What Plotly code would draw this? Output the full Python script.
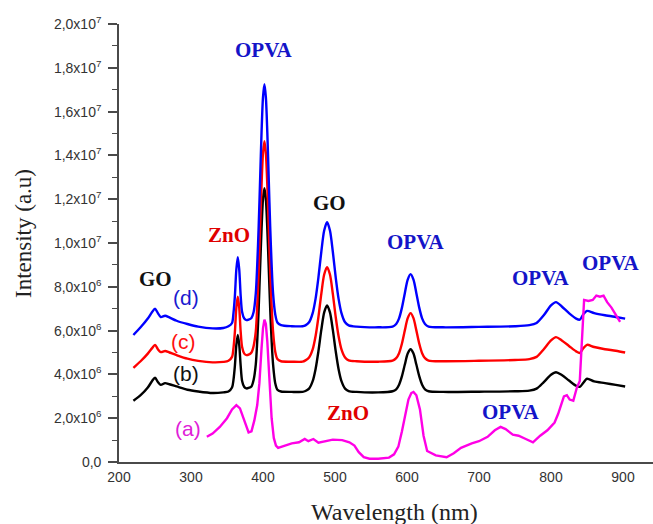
import plotly.graph_objects as go

# ---------------- data ----------------
wavelength_bcd = [
    220, 230, 240, 246, 250, 254, 258, 264, 270, 280,
    295, 310, 330, 345, 352, 357, 359, 361, 363, 365,
    367, 369, 371, 374, 377, 380, 384, 387, 390, 392,
    394, 396, 398, 400, 402, 404, 406, 408, 410, 412,
    414, 417, 420, 425, 440, 455, 459, 464, 469, 473,
    477, 481, 485, 489, 493, 497, 501, 505, 509, 514,
    519, 530, 560, 580, 585, 589, 593, 597, 601, 605,
    609, 613, 617, 621, 625, 630, 650, 700, 750, 770,
    780, 790, 800, 807, 815, 825, 835, 840, 845, 850,
    860, 875, 890, 903,
]

# intensities in units of 1e6
intensity_d = [
    5.80, 6.15, 6.55, 6.85, 7.00, 6.80, 6.62, 6.68, 6.60, 6.45,
    6.30, 6.18, 6.10, 6.12, 6.20, 6.35, 6.80, 7.60, 8.80, 9.35,
    8.80, 7.60, 6.85, 6.55, 6.48, 6.50, 6.58, 6.85, 7.70, 9.00,
    10.75, 12.90, 15.05, 16.65, 17.25, 16.65, 15.05, 12.90, 10.75, 9.00,
    7.70, 6.75, 6.37, 6.25, 6.20, 6.20, 6.24, 6.38, 6.80, 7.45,
    8.43, 9.60, 10.57, 10.95, 10.57, 9.60, 8.43, 7.45, 6.80, 6.38,
    6.24, 6.18, 6.15, 6.18, 6.30, 6.56, 7.05, 7.71, 8.33, 8.58,
    8.33, 7.71, 7.05, 6.56, 6.30, 6.18, 6.15, 6.17, 6.20, 6.25,
    6.35, 6.70, 7.15, 7.30, 7.10, 6.80, 6.55, 6.50, 6.75, 6.90,
    6.80, 6.70, 6.62, 6.55,
]

intensity_c = [
    4.30, 4.60, 4.95, 5.20, 5.35, 5.15, 5.02, 5.07, 5.00, 4.88,
    4.72, 4.62, 4.55, 4.57, 4.62, 4.80, 5.20, 5.95, 7.05, 7.55,
    7.05, 5.95, 5.25, 4.95, 4.88, 4.90, 5.00, 5.30, 5.96, 7.10,
    8.70, 10.70, 12.64, 14.10, 14.65, 14.10, 12.64, 10.70, 8.70, 7.10,
    5.96, 5.04, 4.70, 4.60, 4.58, 4.58, 4.64, 4.77, 5.14, 5.74,
    6.62, 7.68, 8.56, 8.90, 8.56, 7.68, 6.62, 5.74, 5.14, 4.77,
    4.64, 4.60, 4.58, 4.63, 4.74, 4.97, 5.41, 6.01, 6.57, 6.80,
    6.57, 6.01, 5.41, 4.97, 4.74, 4.63, 4.60, 4.62, 4.66, 4.70,
    4.80, 5.15, 5.55, 5.70, 5.55, 5.30, 5.05, 4.98, 5.20, 5.35,
    5.25, 5.15, 5.08, 5.00,
]

intensity_b = [
    2.80, 3.05, 3.40, 3.70, 3.85, 3.65, 3.52, 3.60, 3.55, 3.45,
    3.30, 3.22, 3.15, 3.18, 3.22, 3.40, 3.75, 4.40, 5.35, 5.80,
    5.35, 4.40, 3.70, 3.42, 3.36, 3.38, 3.45, 3.75, 4.46, 5.53,
    7.00, 8.85, 10.64, 12.00, 12.50, 12.00, 10.64, 8.85, 7.00, 5.53,
    4.46, 3.60, 3.30, 3.22, 3.20, 3.20, 3.24, 3.35, 3.69, 4.24,
    5.06, 6.03, 6.83, 7.15, 6.83, 6.03, 5.06, 4.24, 3.69, 3.35,
    3.24, 3.20, 3.18, 3.23, 3.32, 3.53, 3.92, 4.45, 4.95, 5.15,
    4.95, 4.45, 3.92, 3.53, 3.32, 3.23, 3.20, 3.21, 3.23, 3.26,
    3.35, 3.65, 3.98, 4.10, 3.97, 3.72, 3.48, 3.43, 3.62, 3.80,
    3.68, 3.60, 3.52, 3.45,
]

wavelength_a = [
    322, 330, 340, 350, 357, 363, 368, 374, 380, 384,
    388, 392, 395, 398, 400, 402, 404, 406, 409, 412,
    415, 418, 421, 430, 440, 450, 458, 463, 470, 477,
    485, 497, 510, 520, 527, 533, 540, 548, 560, 575,
    582, 588, 593, 598, 602, 606, 609, 613, 618, 623,
    628, 640, 655, 665, 675, 690, 700, 712, 722, 730,
    737, 747, 755, 765, 775, 785, 795, 805, 810, 815,
    818, 822, 826, 831, 836, 840, 843, 846, 852, 858,
    863, 868, 873, 878, 884, 890, 896,
]

intensity_a = [
    1.15, 1.30, 1.60, 2.00, 2.40, 2.60, 2.45, 1.85, 1.35, 1.40,
    1.90, 2.60, 3.60, 5.20, 6.10, 6.50, 6.30, 5.50, 3.60, 2.00,
    1.10, 0.75, 0.65, 0.75, 0.85, 0.90, 1.05, 0.95, 1.05, 0.88,
    0.95, 1.02, 1.00, 0.90, 0.75, 0.45, 0.22, 0.15, 0.15, 0.20,
    0.35, 0.70, 1.40, 2.30, 2.85, 3.15, 3.20, 3.05, 2.40, 1.20,
    0.50, 0.30, 0.22, 0.40, 0.65, 0.85, 0.95, 1.15, 1.45, 1.60,
    1.50, 1.25, 1.20, 1.05, 0.90, 1.20, 1.45, 1.80, 2.20, 2.70,
    3.00, 3.05, 2.85, 2.80, 3.40, 3.70, 5.50, 7.40, 7.35, 7.40,
    7.60, 7.55, 7.60, 7.30, 7.05, 6.75, 6.40,
]

y_tick_values = [0, 2e6, 4e6, 6e6, 8e6, 1e7, 1.2e7, 1.4e7, 1.6e7, 1.8e7, 2e7]
y_tick_labels = ["0,0", "2,0x10<sup>6</sup>", "4,0x10<sup>6</sup>", "6,0x10<sup>6</sup>",
                 "8,0x10<sup>6</sup>", "1,0x10<sup>7</sup>", "1,2x10<sup>7</sup>",
                 "1,4x10<sup>7</sup>", "1,6x10<sup>7</sup>", "1,8x10<sup>7</sup>",
                 "2,0x10<sup>7</sup>"]

# peak labels: (text, wavelength, intensity, color)
peak_labels = [
    ("OPVA", 401, 1.881e7, "#1414c8"),
    ("ZnO", 353, 1.037e7, "#e00000"),
    ("GO", 492, 1.183e7, "#111111"),
    ("OPVA", 612, 1.005e7, "#1414c8"),
    ("ZnO", 518, 2.24e6, "#e00000"),
    ("OPVA", 744, 2.28e6, "#1414c8"),
    ("OPVA", 786, 8.40e6, "#1414c8"),
    ("OPVA", 883, 9.09e6, "#1414c8"),
    ("GO", 250, 8.36e6, "#111111"),
]
series_labels = [
    ("(d)", 293, 7.49e6, "#1a1ad0"),
    ("(c)", 290, 5.48e6, "#ff1010"),
    ("(b)", 293, 4.02e6, "#111111"),
    ("(a)", 296, 1.51e6, "#e020d8"),
]

# ---------------- figure ----------------
scale = 1e6
fig = go.Figure()
line_w = 2.4
fig.add_trace(go.Scatter(x=wavelength_bcd, y=[v * scale for v in intensity_b], mode="lines",
                         line=dict(color="#000000", width=line_w, shape="spline", smoothing=0.8),
                         showlegend=False))
fig.add_trace(go.Scatter(x=wavelength_bcd, y=[v * scale for v in intensity_c], mode="lines",
                         line=dict(color="#ff0000", width=line_w, shape="spline", smoothing=0.8),
                         showlegend=False))
fig.add_trace(go.Scatter(x=wavelength_bcd, y=[v * scale for v in intensity_d], mode="lines",
                         line=dict(color="#0000ff", width=line_w, shape="spline", smoothing=0.8),
                         showlegend=False))
fig.add_trace(go.Scatter(x=wavelength_a, y=[v * scale for v in intensity_a], mode="lines",
                         line=dict(color="#ff00e6", width=line_w),
                         showlegend=False))

x_range = [200, 941.7]
axis_col = "#4a4a4a"
tick_font = dict(family="Liberation Sans, Arial, sans-serif", size=14, color="#333333")

fig.update_layout(
    width=653, height=524,
    margin=dict(l=119, r=0, t=24, b=62),
    paper_bgcolor="white", plot_bgcolor="white",
    # bottom axis: line and labels (ticks drawn by xaxis3)
    xaxis=dict(range=x_range, showgrid=False, zeroline=False,
               showline=True, linecolor=axis_col, linewidth=1.6,
               ticks="", tick0=200, dtick=100, tickfont=tick_font,
               ticklabelstandoff=1),
    # top axis
    xaxis2=dict(range=x_range, overlaying="x", side="top", anchor="y",
                showgrid=False, zeroline=False, showticklabels=False,
                showline=True, linecolor=axis_col, linewidth=1.6,
                ticks="inside", ticklen=8, tickwidth=1.6, tickcolor=axis_col,
                tick0=200, dtick=150,
                minor=dict(tick0=275, dtick=150, ticks="inside", ticklen=4,
                           tickwidth=1.4, tickcolor=axis_col)),
    # bottom ticks
    xaxis3=dict(range=x_range, overlaying="x", side="bottom", anchor="y",
                showgrid=False, zeroline=False, showticklabels=False,
                showline=False,
                ticks="outside", ticklen=9, tickwidth=1.6, tickcolor=axis_col,
                tick0=200, dtick=100,
                minor=dict(tick0=250, dtick=100, ticks="outside", ticklen=5,
                           tickwidth=1.4, tickcolor=axis_col)),
    yaxis=dict(range=[0, 2e7], showgrid=False, zeroline=False,
               showline=True, linecolor=axis_col, linewidth=1.6,
               ticks="outside", ticklen=9, tickwidth=1.6, tickcolor=axis_col,
               tickmode="array", tickvals=y_tick_values, ticktext=y_tick_labels,
               tickfont=tick_font, ticklabelstandoff=4,
               minor=dict(tickmode="linear", tick0=1e6, dtick=2e6, ticks="outside",
                          ticklen=5, tickwidth=1.4, tickcolor=axis_col)),
)

serif = "Liberation Serif, Times New Roman, serif"
sans = "Liberation Sans, Arial, sans-serif"
for text, xv, yv, col in peak_labels:
    fig.add_annotation(x=xv, y=yv, xref="x", yref="y", text="<b>" + text + "</b>",
                       showarrow=False, xanchor="center", yanchor="middle",
                       font=dict(family=serif, size=21, color=col))
for text, xv, yv, col in series_labels:
    fig.add_annotation(x=xv, y=yv, xref="x", yref="y", text=text,
                       showarrow=False, xanchor="center", yanchor="middle",
                       font=dict(family=sans, size=21, color=col))

# axis titles
fig.add_annotation(x=(23 - 119) / 534, y=(462 - 234) / 438, xref="paper", yref="paper",
                   text="Intensity (a.u)", textangle=-90, showarrow=False,
                   xanchor="center", yanchor="middle",
                   font=dict(family=serif, size=23, color="#222222"))
fig.add_annotation(x=(394 - 119) / 534, y=(462 - 512) / 438, xref="paper", yref="paper",
                   text="Wavelength (nm)", showarrow=False,
                   xanchor="center", yanchor="middle",
                   font=dict(family=serif, size=24, color="#222222"))

fig.write_html("out.html", post_script="document.body.style.margin='0';",
               config={"displayModeBar": False})
